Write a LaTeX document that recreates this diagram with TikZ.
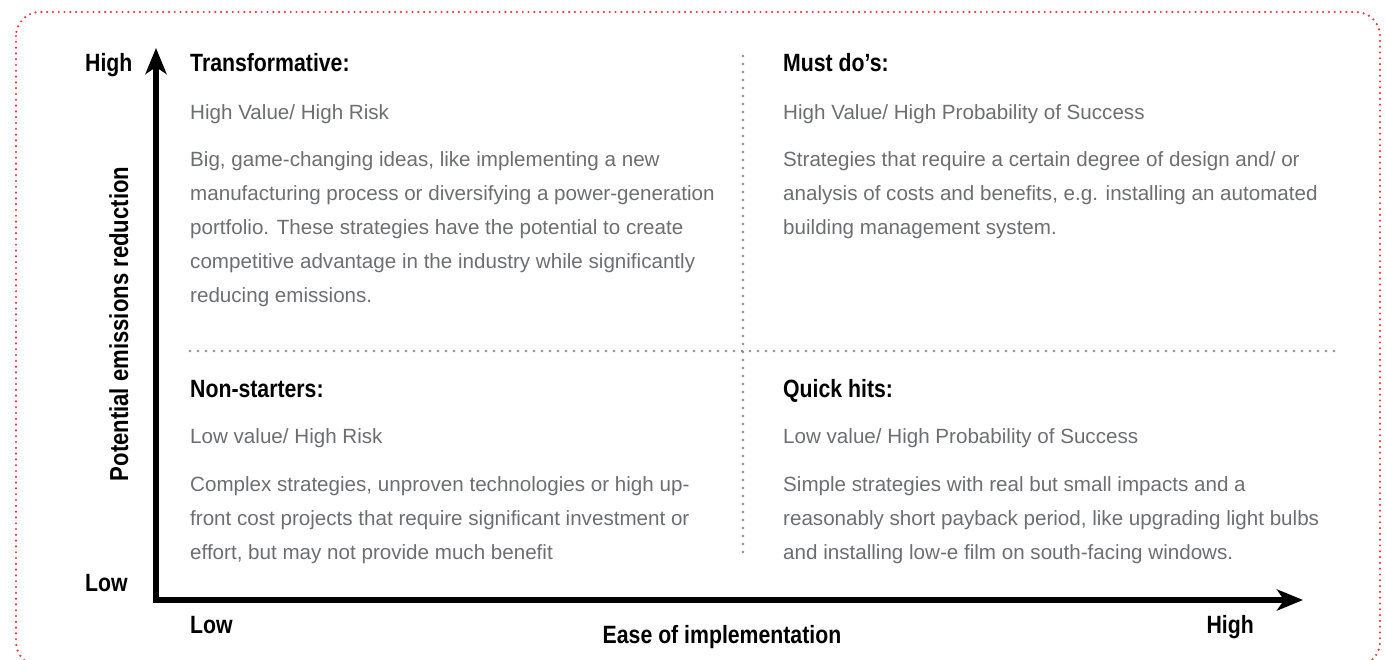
\documentclass[tikz,border=0pt]{standalone}
\usepackage{fontspec}
\setmainfont{Liberation Sans}
\newfontfamily\headfont{Liberation Sans Bold}[FakeStretch=0.85]
\usetikzlibrary{arrows.meta}
\definecolor{bodygray}{HTML}{6D6E71}
\definecolor{dotgray}{HTML}{8A8A8A}
\definecolor{borderred}{HTML}{E8383D}
\tikzset{
  head/.style={font=\headfont\fontsize{25}{30}\selectfont, inner sep=0pt, anchor=base west},
  sub/.style={font=\fontsize{20.6}{34}\selectfont, text=bodygray, inner sep=0pt, anchor=base west},
  axislabel/.style={font=\headfont\fontsize{25}{30}\selectfont, inner sep=0pt},
  axisline/.style={line width=5.5pt, line join=miter,
    {Stealth[length=26pt,width=21pt,inset=7pt]}-{Stealth[length=26pt,width=21pt,inset=7pt]}},
  divider/.style={dotgray, line width=2.6pt, line cap=round, dash pattern=on 0pt off 8pt},
  frame/.style={borderred, line width=2.4pt, line cap=round, dash pattern=on 0pt off 5.8pt, rounded corners=24pt}
}
\begin{document}
\begin{tikzpicture}[x=1pt,y=-1pt]
\useasboundingbox (0,0) rectangle (1386,660);
\clip (0,0) rectangle (1386,660);
\draw[frame] (16,12) rectangle (1380,666);

% dividers
\coordinate (vtop) at (743,56);
\coordinate (vbot) at (743,557);
\coordinate (hleft) at (190,351);
\coordinate (hright) at (1340,351);
\draw[divider] (vtop) -- (vbot);
\draw[divider] (hleft) -- (hright);

% axes
\coordinate (ytip) at (156,48);
\coordinate (origin) at (156,600);
\coordinate (xtip) at (1303,600);
\draw[axisline] (ytip) -- (origin) -- (xtip);

% axis labels
\node[axislabel, anchor=base west] (yhigh) at (85,72) {High};
\node[axislabel, anchor=base west] (ylow) at (85,591) {Low};
\node[axislabel, anchor=base west] (xlow) at (190,633) {Low};
\node[axislabel, anchor=base east] (xhigh) at (1254,633) {High};
\node[axislabel, anchor=base] (xtitle) at (722,643) {Ease of implementation};
\node[axislabel, anchor=base, rotate=90, font=\headfont\fontsize{26}{30}\selectfont] (ytitle) at (128,324) {Potential emissions reduction};

% top left
\node[head] (tlh) at (190,72) {Transformative:};
\node[sub] (tls) at (190,120) {High Value/ High Risk};
\node[sub] (tlb) at (190,167) {\vtop{\hbox{Big, game-changing ideas, like implementing a new}\hbox{manufacturing process or diversifying a power-generation}\hbox{portfolio. These strategies have the potential to create}\hbox{competitive advantage in the industry while significantly}\hbox{reducing emissions.}}};

% top right
\node[head] (trh) at (783,72) {Must do’s:};
\node[sub] (trs) at (783,120) {High Value/ High Probability of Success};
\node[sub] (trb) at (783,167) {\vtop{\hbox{Strategies that require a certain degree of design and/ or}\hbox{analysis of costs and benefits, e.g. installing an automated}\hbox{building management system.}}};

% bottom left
\node[head] (blh) at (190,397) {Non-starters:};
\node[sub] (bls) at (190,443) {Low value/ High Risk};
\node[sub] (blb) at (190,491) {\vtop{\hbox{Complex strategies, unproven technologies or high up-}\hbox{front cost projects that require significant investment or}\hbox{effort, but may not provide much benefit}}};

% bottom right
\node[head] (brh) at (783,397) {Quick hits:};
\node[sub] (brs) at (783,443) {Low value/ High Probability of Success};
\node[sub] (brb) at (783,491) {\vtop{\hbox{Simple strategies with real but small impacts and a}\hbox{reasonably short payback period, like upgrading light bulbs}\hbox{and installing low-e film on south-facing windows.}}};
\end{tikzpicture}
\end{document}
